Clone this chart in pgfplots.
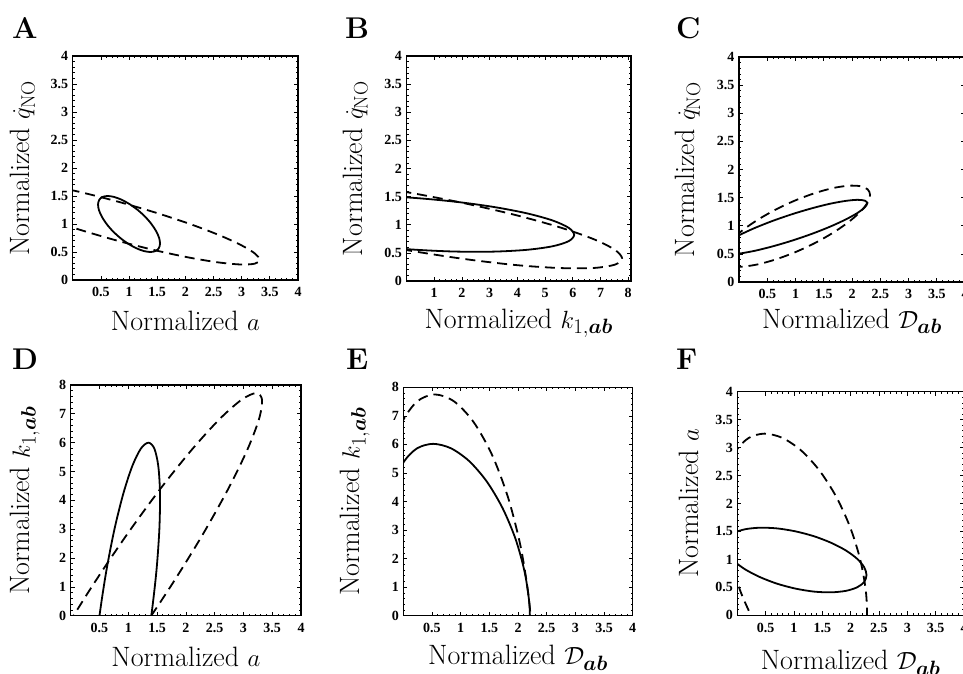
\documentclass[border=0pt]{standalone}
\usepackage{fontspec}
\usepackage{pgfplots}
\pgfplotsset{compat=1.18}
\usepackage{bm}
\newfontfamily\tickfont{Liberation Serif}
\pgfplotsset{
  panel/.style={
    scale only axis, anchor=south west, clip=true,
    axis line style={line width=1.1pt},
    tick align=inside, major tick length=4pt, minor tick length=2pt,
    tick style={line width=0.7pt, black},
    minor tick num=4,
    tick label style={font=\tickfont\bfseries\fontsize{14}{16}\selectfont},
    /pgf/number format/assume math mode=true,
    xticklabel style={yshift=-4pt},
    yticklabel style={xshift=-1pt},
    label style={font=\fontsize{28}{32}\selectfont},
    xlabel style={at={(axis description cs:0.5,0)}, anchor=base},
  },
  solidc/.style={black, line width=1.8pt, smooth},
  dashc/.style={black, line width=1.8pt, smooth, dash pattern=on 10pt off 6pt},
}
\begin{document}
\begin{tikzpicture}
\useasboundingbox (0,0) rectangle (963pt,673pt);
\clip (0,0) rectangle (963pt,673pt);

% ---------------- A ----------------
\begin{axis}[panel, at={(72.7pt,393pt)}, width=225.3pt, height=224pt,
  xmin=0, xmax=4, ymin=0, ymax=4,
  xtick={0.5,1,1.5,2,2.5,3,3.5,4}, ytick={0,0.5,1,1.5,2,2.5,3,3.5,4},
  xlabel={Normalized $a$}, ylabel={Normalized $\dot{q}_{\mathrm{NO}}$},
  xlabel style={yshift=-50pt},
  ylabel style={at={(axis description cs:-0.222,0.5)}, anchor=center}]
\addplot[solidc] coordinates {(1.012,1.354) (1.155,1.25) (1.286,1.13) (1.398,1.0) (1.482,0.87) (1.535,0.75) (1.55,0.646) (1.528,0.567) (1.47,0.517) (1.38,0.5) (1.264,0.517) (1.13,0.567) (0.988,0.646) (0.845,0.75) (0.714,0.87) (0.602,1.0) (0.518,1.13) (0.465,1.25) (0.45,1.354) (0.472,1.433) (0.53,1.483) (0.62,1.5) (0.736,1.483) (0.87,1.433) (1.012,1.354)};
\addplot[dashc] coordinates {(-1.72,1.74) (-1.634,1.626) (-1.382,1.473) (-0.982,1.291) (-0.46,1.092) (0.147,0.891) (0.8,0.70) (1.453,0.533) (2.06,0.402) (2.582,0.315) (2.982,0.277) (3.234,0.292) (3.32,0.36) (3.234,0.474) (2.982,0.627) (2.582,0.809) (2.06,1.008) (1.453,1.209) (0.8,1.40) (0.147,1.567) (-0.46,1.698) (-0.982,1.785) (-1.382,1.823) (-1.634,1.808) (-1.72,1.74)};
\end{axis}

% ---------------- B ----------------
\begin{axis}[panel, at={(406.5pt,392pt)}, width=224.5pt, height=225pt,
  xmin=0, xmax=8.1, ymin=0, ymax=4,
  xtick={1,2,3,4,5,6,7,8}, ytick={0,0.5,1,1.5,2,2.5,3,3.5,4},
  xlabel={Normalized $k_{1,\bm{ab}}$}, ylabel={Normalized $\dot{q}_{\mathrm{NO}}$},
  xlabel style={yshift=-47pt},
  ylabel style={at={(axis description cs:-0.227,0.5)}, anchor=center}]
\addplot[solidc] coordinates {(-5.65,1.22) (-5.451,1.094) (-4.866,0.963) (-3.936,0.836) (-2.725,0.722) (-1.315,0.628) (0.2,0.56) (1.715,0.524) (3.125,0.522) (4.336,0.554) (5.266,0.617) (5.851,0.708) (6.05,0.82) (5.851,0.946) (5.266,1.077) (4.336,1.204) (3.125,1.318) (1.715,1.412) (0.2,1.48) (-1.315,1.516) (-2.725,1.518) (-3.936,1.486) (-4.866,1.423) (-5.451,1.332) (-5.65,1.22)};
\addplot[dashc] coordinates {(-7.78,1.73) (-7.515,1.574) (-6.737,1.383) (-5.5,1.171) (-3.89,0.952) (-2.015,0.74) (0,0.55) (2.015,0.396) (3.89,0.286) (5.5,0.231) (6.737,0.231) (7.515,0.29) (7.78,0.40) (7.515,0.556) (6.737,0.747) (5.5,0.959) (3.89,1.178) (2.015,1.39) (0,1.58) (-2.015,1.734) (-3.89,1.844) (-5.5,1.899) (-6.737,1.899) (-7.515,1.84) (-7.78,1.73)};
\end{axis}

% ---------------- C ----------------
\begin{axis}[panel, at={(739pt,391pt)}, width=226pt, height=225pt,
  xmin=0, xmax=4, ymin=0, ymax=4,
  xtick={0.5,1,1.5,2,2.5,3,3.5,4}, ytick={0,0.5,1,1.5,2,2.5,3,3.5,4},
  xlabel={Normalized $\mathcal{D}_{\bm{ab}}$}, ylabel={Normalized $\dot{q}_{\mathrm{NO}}$},
  xlabel style={yshift=-46pt},
  ylabel style={at={(axis description cs:-0.226,0.5)}, anchor=center}]
\addplot[solidc] coordinates {(-0.37,0.548) (-0.325,0.501) (-0.193,0.487) (0.017,0.507) (0.29,0.557) (0.608,0.637) (0.95,0.739) (1.292,0.857) (1.61,0.983) (1.883,1.109) (2.093,1.225) (2.225,1.325) (2.27,1.40) (2.225,1.447) (2.093,1.461) (1.883,1.441) (1.61,1.391) (1.292,1.311) (0.95,1.209) (0.608,1.091) (0.29,0.965) (0.017,0.839) (-0.193,0.723) (-0.325,0.623) (-0.37,0.548)};
\addplot[dashc] coordinates {(-0.32,0.435) (-0.275,0.335) (-0.143,0.28) (0.067,0.273) (0.34,0.315) (0.658,0.404) (1.0,0.532) (1.342,0.692) (1.66,0.873) (1.933,1.061) (2.143,1.244) (2.275,1.411) (2.32,1.549) (2.275,1.649) (2.143,1.704) (1.933,1.711) (1.66,1.669) (1.342,1.58) (1.0,1.452) (0.658,1.292) (0.34,1.111) (0.067,0.923) (-0.143,0.74) (-0.275,0.573) (-0.32,0.435)};
\end{axis}

% ---------------- D ----------------
\begin{axis}[panel, at={(70.7pt,57.3pt)}, width=230.3pt, height=230.7pt,
  xmin=0, xmax=4, ymin=0, ymax=8,
  xtick={0.5,1,1.5,2,2.5,3,3.5,4}, ytick={0,1,2,3,4,5,6,7,8},
  xlabel={Normalized $a$}, ylabel={Normalized $k_{1,\bm{ab}}$},
  xlabel style={yshift=-51pt},
  ylabel style={at={(axis description cs:-0.198,0.5)}, anchor=center}]
\addplot[solidc] coordinates {(0.55,-6) (0.447,-5.796) (0.379,-5.196) (0.349,-4.242) (0.36,-3) (0.411,-1.554) (0.5,0) (0.619,1.554) (0.76,3) (0.915,4.242) (1.071,5.196) (1.219,5.796) (1.35,6) (1.453,5.796) (1.521,5.196) (1.551,4.242) (1.54,3) (1.489,1.554) (1.4,0) (1.281,-1.554) (1.14,-3) (0.985,-4.242) (0.829,-5.196) (0.681,-5.796) (0.55,-6)};
\addplot[dashc] coordinates {(-1.124,-5.72) (-1.227,-5.492) (-1.175,-4.82) (-0.971,-3.751) (-0.63,-2.36) (-0.175,-0.74) (0.365,1) (0.951,2.74) (1.542,4.36) (2.101,5.751) (2.587,6.82) (2.969,7.492) (3.22,7.72) (3.323,7.492) (3.271,6.82) (3.067,5.751) (2.726,4.36) (2.271,2.74) (1.731,1) (1.145,-0.74) (0.554,-2.36) (-0.005,-3.751) (-0.491,-4.82) (-0.873,-5.492) (-1.124,-5.72)};
\end{axis}

% ---------------- E ----------------
\begin{axis}[panel, at={(403.3pt,57.3pt)}, width=229.4pt, height=228.4pt,
  xmin=0, xmax=4, ymin=0, ymax=8,
  xtick={0.5,1,1.5,2,2.5,3,3.5,4}, ytick={0,1,2,3,4,5,6,7,8},
  xlabel={Normalized $\mathcal{D}_{\bm{ab}}$}, ylabel={Normalized $k_{1,\bm{ab}}$},
  xlabel style={yshift=-49pt},
  ylabel style={at={(axis description cs:-0.211,0.5)}, anchor=center}]
\addplot[solidc] coordinates {(-0.143,1.5) (-0.226,2.671) (-0.225,3.76) (-0.143,4.696) (0.017,5.414) (0.243,5.866) (0.52,6.02) (0.829,5.866) (1.149,5.414) (1.457,4.696) (1.733,3.76) (1.96,2.671) (2.119,1.5) (2.202,0.329) (2.201,-0.76)};
\addplot[dashc] coordinates {(1.346,-6.75) (1.009,-6.504) (0.669,-5.779) (0.347,-4.626) (0.067,-3.125) (-0.154,-1.378) (-0.299,0.5) (-0.36,2.378) (-0.331,4.125) (-0.215,5.626) (-0.021,6.779) (0.241,7.504) (0.55,7.75) (0.887,7.504) (1.227,6.779) (1.549,5.626) (1.829,4.125) (2.05,2.378) (2.195,0.5) (2.256,-1.378) (2.227,-3.125) (2.111,-4.626) (1.917,-5.779) (1.655,-6.504) (1.346,-6.75)};
\end{axis}

% ---------------- F ----------------
\begin{axis}[panel, at={(737.3pt,57.7pt)}, width=226.7pt, height=223.6pt,
  xmin=0, xmax=4, ymin=0, ymax=4,
  xtick={0.5,1,1.5,2,2.5,3,3.5,4}, ytick={0,0.5,1,1.5,2,2.5,3,3.5,4},
  xlabel={Normalized $\mathcal{D}_{\bm{ab}}$}, ylabel={Normalized $a$},
  xlabel style={yshift=-54pt},
  ylabel style={at={(axis description cs:-0.213,0.5)}, anchor=center}]
\addplot[solidc] coordinates {(-0.22,1.258) (-0.178,1.116) (-0.053,0.966) (0.146,0.817) (0.405,0.681) (0.706,0.564) (1.03,0.477) (1.354,0.424) (1.655,0.411) (1.914,0.437) (2.113,0.50) (2.238,0.596) (2.28,0.72) (2.238,0.862) (2.113,1.012) (1.914,1.161) (1.655,1.297) (1.354,1.414) (1.03,1.501) (0.706,1.554) (0.405,1.567) (0.146,1.541) (-0.053,1.478) (-0.178,1.382) (-0.22,1.258)};
\addplot[dashc] coordinates {(1.567,-1.25) (1.253,-1.174) (0.922,-0.949) (0.599,-0.591) (0.305,-0.125) (0.06,0.417) (-0.121,1) (-0.223,1.583) (-0.24,2.125) (-0.17,2.591) (-0.019,2.949) (0.203,3.174) (0.48,3.25) (0.795,3.174) (1.126,2.949) (1.449,2.591) (1.743,2.125) (1.988,1.583) (2.168,1) (2.27,0.417) (2.287,-0.125) (2.217,-0.591) (2.066,-0.949) (1.845,-1.174) (1.567,-1.25)};
\end{axis}

% panel letters
\begin{scope}[every node/.style={anchor=base west, inner sep=0pt, font=\bfseries\fontsize{30}{34}\selectfont}]
\node at (12pt,634pt) {A};
\node at (345pt,634pt) {B};
\node at (676pt,634pt) {C};
\node at (12pt,304pt) {D};
\node at (346pt,304pt) {E};
\node at (676pt,304pt) {F};
\end{scope}
\end{tikzpicture}
\end{document}
